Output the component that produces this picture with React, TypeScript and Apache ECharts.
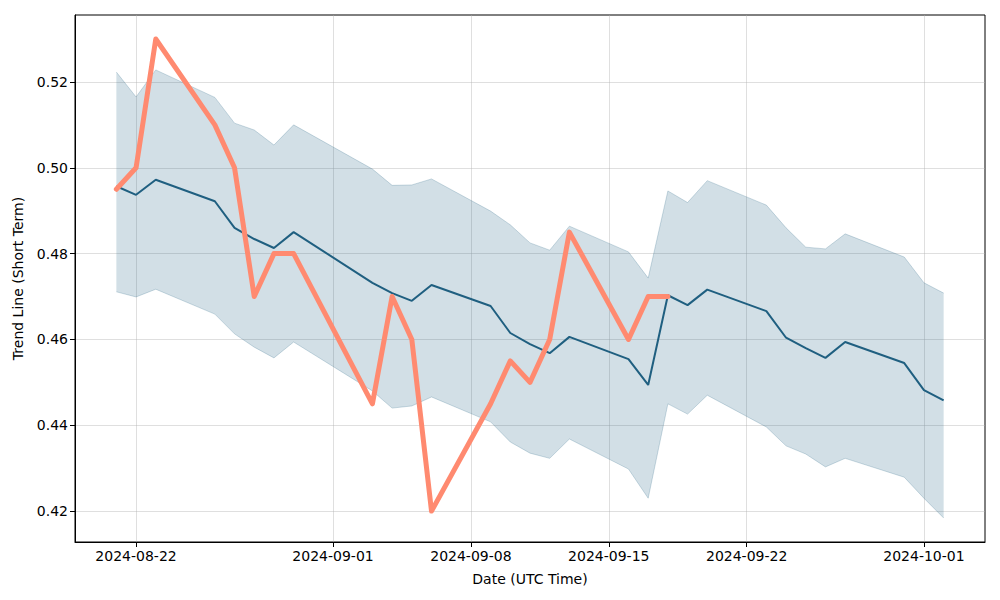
import React, { useEffect, useRef } from "react";
import * as echarts from "echarts";

const dates = [
  "2024-08-21", "2024-08-22", "2024-08-23", "2024-08-26", "2024-08-27", "2024-08-28",
  "2024-08-29", "2024-08-30", "2024-09-03", "2024-09-04", "2024-09-05", "2024-09-06",
  "2024-09-09", "2024-09-10", "2024-09-11", "2024-09-12", "2024-09-13", "2024-09-16",
  "2024-09-17", "2024-09-18", "2024-09-19", "2024-09-20", "2024-09-23", "2024-09-24",
  "2024-09-25", "2024-09-26", "2024-09-27", "2024-09-30", "2024-10-01", "2024-10-02",
];
const trend = [
  0.4957, 0.4937, 0.4972, 0.4922, 0.486, 0.4834, 0.4813, 0.485, 0.4732, 0.4708,
  0.469, 0.4727, 0.4678, 0.4615, 0.4589, 0.4568, 0.4606, 0.4554, 0.4494, 0.4703,
  0.468, 0.4716, 0.4666, 0.4604, 0.458, 0.4557, 0.4594, 0.4545, 0.4482, 0.4458,
];
const upper = [
  0.5223, 0.5165, 0.5228, 0.5164, 0.5104, 0.5088, 0.5053, 0.51, 0.4997, 0.4959,
  0.496, 0.4974, 0.4899, 0.4867, 0.4825, 0.4808, 0.4864, 0.4804, 0.4743, 0.4946,
  0.4919, 0.497, 0.4913, 0.486, 0.4815, 0.4811, 0.4846, 0.4792, 0.4732, 0.4708,
];
const lower = [
  0.4711, 0.4699, 0.4717, 0.4659, 0.4613, 0.4582, 0.4557, 0.4594, 0.448, 0.444,
  0.4445, 0.4466, 0.4408, 0.4361, 0.4335, 0.4323, 0.4368, 0.4298, 0.423, 0.445,
  0.4426, 0.447, 0.4396, 0.4352, 0.4333, 0.4303, 0.4323, 0.4279, 0.423, 0.4184,
];
const actualDates = dates.slice(0, 20);
const actual = [
  0.495, 0.5, 0.53, 0.51, 0.5, 0.47, 0.48, 0.48, 0.445, 0.47,
  0.46, 0.42, 0.445, 0.455, 0.45, 0.46, 0.485, 0.46, 0.47, 0.47,
];
const xTickDates = ["2024-08-22", "2024-09-01", "2024-09-08", "2024-09-15", "2024-09-22", "2024-10-01"];
const yTicks = [0.42, 0.44, 0.46, 0.48, 0.5, 0.52];

const ts = (d: string) => Date.parse(d + "T00:00:00Z");
const DAY = 86400000;

export default function App() {
  const ref = useRef<HTMLDivElement>(null);
  useEffect(() => {
    if (!ref.current) return;
    const chart = echarts.init(ref.current, null, { renderer: "svg" });
    const xs = dates.map(ts);
    const xMin = xs[0] - 2.1 * DAY;
    const xMax = xs[xs.length - 1] + 2.1 * DAY;
    const font = "DejaVu Sans";
    const bandData = xs.map((x, i) => [x, lower[i], upper[i]]);
    chart.setOption({
      animation: false,
      textStyle: { fontFamily: font },
      grid: {
        left: 75, right: 15, top: 15, bottom: 58,
        show: true, borderColor: "#000", borderWidth: 1, backgroundColor: "transparent",
      },
      xAxis: {
        type: "value",
        min: xMin,
        max: xMax,
        scale: true,
        name: "Date (UTC Time)",
        nameLocation: "middle",
        nameGap: 30,
        nameTextStyle: { color: "#000", fontSize: 14, fontFamily: font },
        axisLine: { show: true, onZero: false, lineStyle: { color: "#000", width: 1 } },
        axisTick: { show: true, length: 5, lineStyle: { color: "#000" }, customValues: xTickDates.map(ts) },
        axisLabel: {
          color: "#000", fontSize: 14, fontFamily: font, margin: 7,
          customValues: xTickDates.map(ts),
          formatter: (v: number) => new Date(v).toISOString().slice(0, 10),
        },
        splitLine: { show: true, lineStyle: { color: "#b0b0b0", opacity: 0.4, width: 1 } },
      },
      yAxis: {
        type: "value",
        min: 0.4128,
        max: 0.5356,
        scale: true,
        name: "Trend Line (Short Term)",
        nameLocation: "middle",
        nameGap: 50,
        nameTextStyle: { color: "#000", fontSize: 14, fontFamily: font },
        axisLine: { show: true, onZero: false, lineStyle: { color: "#000", width: 1 } },
        axisTick: { show: true, length: 5, lineStyle: { color: "#000" }, customValues: yTicks },
        axisLabel: {
          color: "#000", fontSize: 14, fontFamily: font, margin: 7,
          customValues: yTicks,
          formatter: (v: number) => v.toFixed(2),
        },
        splitLine: { show: true, lineStyle: { color: "#b0b0b0", opacity: 0.4, width: 1 } },
      },
      series: [
        {
          type: "custom",
          name: "band",
          data: bandData,
          encode: { x: 0, y: [1, 2] },
          z: 1,
          clip: true,
          renderItem: (params: any, api: any) => {
            if (params.dataIndex !== 0) return null;
            const up = bandData.map((d) => api.coord([d[0], d[2]]));
            const lo = bandData.map((d) => api.coord([d[0], d[1]]));
            const poly = up.concat(lo.slice().reverse());
            return {
              type: "group",
              children: [
                {
                  type: "polygon",
                  shape: { points: poly },
                  style: { fill: "rgba(31,95,128,0.2)", stroke: "none" },
                },
                {
                  type: "polyline",
                  shape: { points: up },
                  style: { fill: "none", stroke: "rgba(31,95,128,0.22)", lineWidth: 1 },
                },
                {
                  type: "polyline",
                  shape: { points: lo },
                  style: { fill: "none", stroke: "rgba(31,95,128,0.22)", lineWidth: 1 },
                },
              ],
            };
          },
        },
        {
          type: "line",
          name: "trend",
          symbol: "none",
          data: xs.map((x, i) => [x, trend[i]]),
          lineStyle: { color: "#1f5f80", width: 2 },
          z: 3,
        },
        {
          type: "line",
          name: "actual",
          symbol: "none",
          data: actualDates.map((d, i) => [ts(d), actual[i]]),
          lineStyle: { color: "#ff8a70", width: 5, join: "round", cap: "round" },
          z: 4,
        },
      ],
    });
    return () => chart.dispose();
  }, []);
  return (
    <div
      ref={ref}
      style={{ position: "fixed", left: 0, top: 0, width: 1000, height: 600, background: "#fff" }}
    />
  );
}
